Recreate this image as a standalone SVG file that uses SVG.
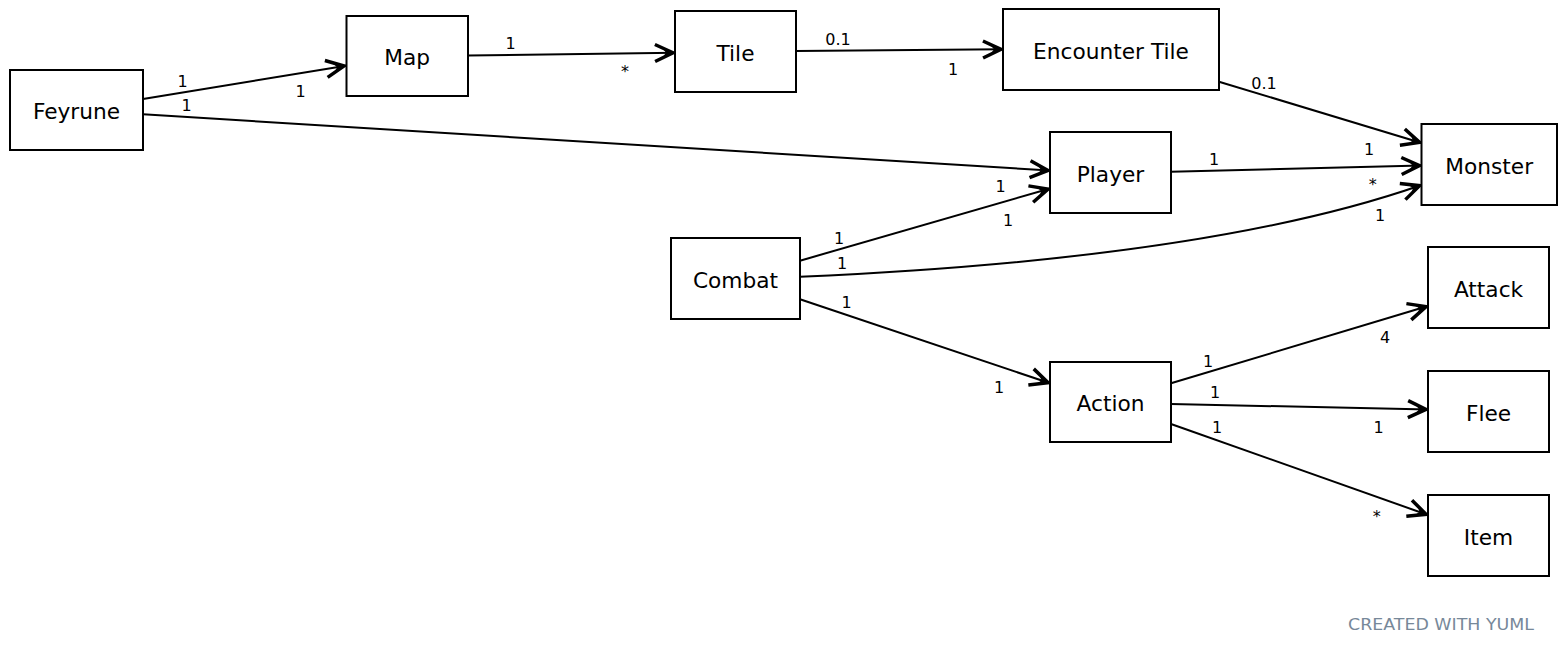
<svg xmlns="http://www.w3.org/2000/svg" width="1566" height="653" viewBox="0 0 1566 653">
<style>
.node rect{fill:#fff;stroke:#000;stroke-width:2}
.node text{font-family:"DejaVu Sans",Verdana,sans-serif;font-size:21.7px;fill:#000;text-anchor:middle}
.edge{fill:none;stroke:#000;stroke-width:2;marker-end:url(#vee)}
.lbl{font-family:"DejaVu Sans",Verdana,sans-serif;font-size:16px;fill:#000;text-anchor:middle}
.wm{font-family:"DejaVu Sans",Verdana,sans-serif;font-size:16px;fill:#778899}
</style>
<defs>
<marker id="vee" markerUnits="userSpaceOnUse" markerWidth="28" markerHeight="26" viewBox="-24 -13 28 26" refX="0" refY="0" orient="auto" overflow="visible">
<path d="M-20,-8.5 L-2,0 L-20,8.5" fill="none" stroke="#000" stroke-width="3.5" stroke-linejoin="miter" stroke-miterlimit="10"/>
<path d="M0,0 L-12,-4 L-9,0 L-12,4 Z" fill="#000"/>
</marker>
</defs>
<rect width="1566" height="653" fill="#fff"/>
<g id="connectors">
<path class="edge" d="M143,99 L346,65.7"/>
<path class="edge" d="M143,114.3 L1050,170.5"/>
<path class="edge" d="M468,55.5 L675,52.7"/>
<path class="edge" d="M796,51 L1003,49.3"/>
<path class="edge" d="M1219,81.7 L1421.5,143"/>
<path class="edge" d="M1171,171.7 L1421.5,165.5"/>
<path class="edge" d="M800,260.7 L1050,188.5"/>
<path class="edge" d="M800,276.7 C1000,268 1250,245 1421.5,185"/>
<path class="edge" d="M800,299.3 L1050,383.3"/>
<path class="edge" d="M1171,383.3 L1428,306"/>
<path class="edge" d="M1171,404 L1428,409.5"/>
<path class="edge" d="M1171,424 L1428,515"/>
<text class="lbl" x="182.7" y="87">1</text>
<text class="lbl" x="300.7" y="97">1</text>
<text class="lbl" x="186.7" y="111">1</text>
<text class="lbl" x="510.7" y="49">1</text>
<text class="lbl" x="625" y="77">*</text>
<text class="lbl" x="838" y="45">0.1</text>
<text class="lbl" x="953" y="75">1</text>
<text class="lbl" x="1264" y="89">0.1</text>
<text class="lbl" x="1369" y="155">1</text>
<text class="lbl" x="1214" y="165">1</text>
<text class="lbl" x="1372.7" y="190">*</text>
<text class="lbl" x="839" y="244">1</text>
<text class="lbl" x="1000.7" y="192">1</text>
<text class="lbl" x="842" y="269">1</text>
<text class="lbl" x="1008" y="226">1</text>
<text class="lbl" x="1380" y="221">1</text>
<text class="lbl" x="846.7" y="308">1</text>
<text class="lbl" x="999" y="393">1</text>
<text class="lbl" x="1208" y="367">1</text>
<text class="lbl" x="1385" y="343">4</text>
<text class="lbl" x="1215" y="398">1</text>
<text class="lbl" x="1378.7" y="433">1</text>
<text class="lbl" x="1217" y="433">1</text>
<text class="lbl" x="1376.7" y="522">*</text>
</g>
<g id="Feyrune" class="node"><rect x="10" y="70" width="133" height="80"/><text x="76.5" y="119">Feyrune</text></g>
<g id="Map" class="node"><rect x="346.5" y="16" width="121.5" height="80"/><text x="407.2" y="65">Map</text></g>
<g id="Tile" class="node"><rect x="675" y="11" width="121" height="81"/><text x="735.5" y="60.5">Tile</text></g>
<g id="EncounterTile" class="node"><rect x="1003" y="9" width="216" height="81"/><text x="1111" y="58.5">Encounter Tile</text></g>
<g id="Monster" class="node"><rect x="1421.5" y="124" width="135.5" height="81"/><text x="1489.2" y="173.5">Monster</text></g>
<g id="Player" class="node"><rect x="1050" y="132" width="121" height="81"/><text x="1110.5" y="181.5">Player</text></g>
<g id="Combat" class="node"><rect x="671" y="238" width="129" height="81"/><text x="735.5" y="287.5">Combat</text></g>
<g id="Attack" class="node"><rect x="1428" y="247" width="121" height="81"/><text x="1488.5" y="296.5">Attack</text></g>
<g id="Action" class="node"><rect x="1050" y="362" width="121" height="80"/><text x="1110.5" y="411">Action</text></g>
<g id="Flee" class="node"><rect x="1428" y="371" width="121" height="81"/><text x="1488.5" y="420.5">Flee</text></g>
<g id="Item" class="node"><rect x="1428" y="495" width="121" height="81"/><text x="1488.5" y="544.5">Item</text></g>
<text class="wm" x="1348" y="630" textLength="186" lengthAdjust="spacingAndGlyphs">CREATED WITH YUML</text>
</svg>
